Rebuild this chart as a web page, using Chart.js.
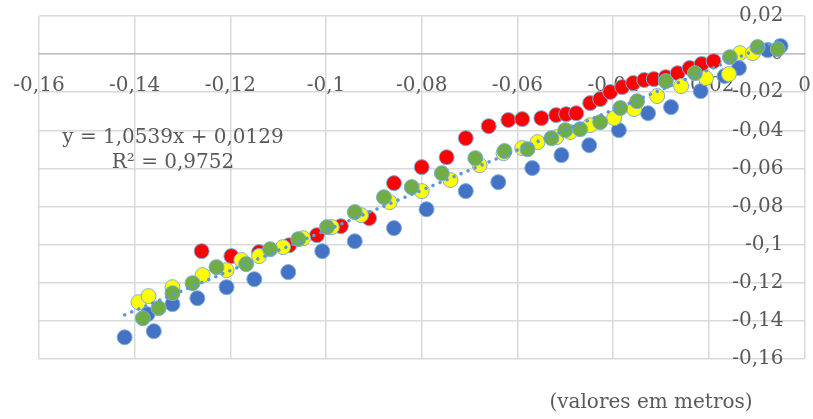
<!DOCTYPE html>
<html>
<head>
<meta charset="utf-8">
<script src="https://cdn.jsdelivr.net/npm/chart.js@4"></script>
<style>
  body { margin: 0; background: #fff; }
  #wrap { width: 813px; height: 419px; }
</style>
</head>
<body>
<div id="wrap"><canvas id="chart" width="813" height="419"></canvas></div>
<script>
// ticks des axes
const xTicks = [-0.16, -0.14, -0.12, -0.10, -0.08, -0.06, -0.04, -0.02, 0];
const yTicks = [0.02, 0, -0.02, -0.04, -0.06, -0.08, -0.10, -0.12, -0.14, -0.16];

// serie bleue
const blueX = [-0.1421, -0.1360, -0.1373, -0.1321, -0.1269, -0.1208, -0.1150, -0.1079, -0.1008, -0.0940, -0.0858, -0.0790, -0.0708, -0.0640, -0.0569, -0.0508, -0.0450, -0.0388, -0.0327, -0.0279, -0.0217, -0.0167, -0.0137, -0.0077, -0.0050];
const blueY = [-0.1486, -0.1454, -0.1365, -0.1312, -0.1281, -0.1223, -0.1181, -0.1144, -0.1034, -0.0982, -0.0913, -0.0814, -0.0719, -0.0672, -0.0598, -0.0530, -0.0478, -0.0399, -0.0310, -0.0278, -0.0194, -0.0115, -0.0073, 0.0021, 0.0042];

// serie rouge
const redX = [-0.1260, -0.1198, -0.1140, -0.1077, -0.1019, -0.0969, -0.0910, -0.0858, -0.0800, -0.0748, -0.0708, -0.0660, -0.0619, -0.0590, -0.0550, -0.0519, -0.0498, -0.0477, -0.0448, -0.0427, -0.0406, -0.0381, -0.0358, -0.0335, -0.0315, -0.0290, -0.0265, -0.0240, -0.0215, -0.0190];
const redY = [-0.1034, -0.1060, -0.1039, -0.1003, -0.0950, -0.0903, -0.0861, -0.0677, -0.0593, -0.0541, -0.0441, -0.0378, -0.0346, -0.0341, -0.0336, -0.0320, -0.0315, -0.0310, -0.0257, -0.0236, -0.0199, -0.0173, -0.0152, -0.0136, -0.0131, -0.0121, -0.0100, -0.0073, -0.0052, -0.0037];

// serie jaune
const yellowX = [-0.1392, -0.1371, -0.1321, -0.1258, -0.1208, -0.1177, -0.1140, -0.1090, -0.1048, -0.0988, -0.0927, -0.0867, -0.0800, -0.0740, -0.0679, -0.0629, -0.0590, -0.0558, -0.0519, -0.0490, -0.0448, -0.0398, -0.0356, -0.0308, -0.0258, -0.0206, -0.0158, -0.0135, -0.0108];
const yellowY = [-0.1302, -0.1270, -0.1223, -0.1160, -0.1134, -0.1081, -0.1060, -0.1013, -0.0966, -0.0908, -0.0845, -0.0777, -0.0719, -0.0661, -0.0583, -0.0520, -0.0493, -0.0462, -0.0436, -0.0409, -0.0373, -0.0336, -0.0289, -0.0220, -0.0168, -0.0126, -0.0105, 0.0005, 0.0005];

// serie verte
const greenX = [-0.1383, -0.1350, -0.1321, -0.1279, -0.1229, -0.1167, -0.1117, -0.1058, -0.0998, -0.0940, -0.0879, -0.0821, -0.0758, -0.0688, -0.0627, -0.0579, -0.0529, -0.0500, -0.0469, -0.0427, -0.0385, -0.0350, -0.0290, -0.0229, -0.0156, -0.0098, -0.0056];
const greenY = [-0.1386, -0.1333, -0.1255, -0.1202, -0.1118, -0.1102, -0.1024, -0.0971, -0.0908, -0.0829, -0.0751, -0.0698, -0.0625, -0.0546, -0.0509, -0.0499, -0.0441, -0.0399, -0.0394, -0.0357, -0.0283, -0.0247, -0.0142, -0.0100, -0.0016, 0.0037, 0.0026];

// courbe de tendance
const trendSlope = 1.0539;
const trendIntercept = 0.0129;
const trendLabel = "y = 1,0539x + 0,0129";
const r2Label = "R² = 0,9752";
const unitLabel = "(valores em metros)";

function toPoints(xs, ys) {
  return xs.map((x, i) => ({ x: x, y: ys[i] }));
}

function fmt(v) {
  return String(Math.round(v * 100) / 100).replace('.', ',');
}

const allX = blueX.concat(redX, yellowX, greenX);
const xMin = Math.min(...allX);
const xMax = Math.max(...allX);
const trendPts = [
  { x: xMin, y: trendSlope * xMin + trendIntercept },
  { x: xMax, y: trendSlope * xMax + trendIntercept }
];

const FONT = "'DejaVu Serif', serif";
const TXT = "#595959";

// textes libres (equation + unites)
const textPlugin = {
  id: 'freeText',
  afterDraw(chart) {
    const ctx = chart.ctx;
    ctx.save();
    ctx.fillStyle = TXT;
    ctx.font = "20px " + FONT;
    ctx.textAlign = "center";
    ctx.textBaseline = "middle";
    ctx.fillText(trendLabel, 173, 138);
    ctx.fillText(r2Label, 173, 163);
    ctx.fillText(unitLabel, 651, 403);
    ctx.restore();
  }
};

function markerSet(label, data, color) {
  return {
    label: label,
    data: data,
    backgroundColor: color,
    borderColor: '#7eaedc',
    borderWidth: 1,
    pointRadius: 7.5,
    showLine: false
  };
}

new Chart(document.getElementById('chart'), {
  type: 'scatter',
  data: {
    datasets: [
      {
        label: 'Tendance',
        data: trendPts,
        showLine: true,
        borderColor: '#5b9bd5',
        borderWidth: 3.5,
        borderDash: [0.1, 7.5],
        borderCapStyle: 'round',
        pointRadius: 0,
        fill: false
      },
      markerSet('Verde', toPoints(greenX, greenY), '#70ad47'),
      markerSet('Amarelo', toPoints(yellowX, yellowY), '#ffff00'),
      markerSet('Vermelho', toPoints(redX, redY), '#ff0000'),
      markerSet('Azul', toPoints(blueX, blueY), '#4472c4')
    ]
  },
  options: {
    responsive: false,
    animation: false,
    events: [],
    layout: { padding: { left: 39, top: 16, right: 5, bottom: 60 } },
    plugins: {
      legend: { display: false },
      tooltip: { enabled: false }
    },
    scales: {
      x: {
        type: 'linear',
        min: -0.16,
        max: 0,
        position: { y: 0 },
        afterBuildTicks: s => { s.ticks = xTicks.map(v => ({ value: v })); },
        grid: { color: '#d9d9d9', lineWidth: 1.5, drawTicks: false },
        border: { color: '#bfbfbf', width: 1.5 },
        ticks: {
          padding: 0,
          color: TXT,
          font: { family: FONT, size: 20, lineHeight: 3.2 },
          maxRotation: 0,
          callback: v => fmt(v)
        }
      },
      y: {
        type: 'linear',
        min: -0.16,
        max: 0.02,
        position: { x: -0.0044 },
        afterBuildTicks: s => { s.ticks = yTicks.map(v => ({ value: v })); },
        grid: { color: '#d9d9d9', lineWidth: 1.5, drawTicks: false },
        border: { display: false },
        ticks: {
          padding: 0,
          color: TXT,
          font: { family: FONT, size: 20 },
          callback: v => fmt(v)
        }
      }
    }
  },
  plugins: [textPlugin]
});
</script>
</body>
</html>
